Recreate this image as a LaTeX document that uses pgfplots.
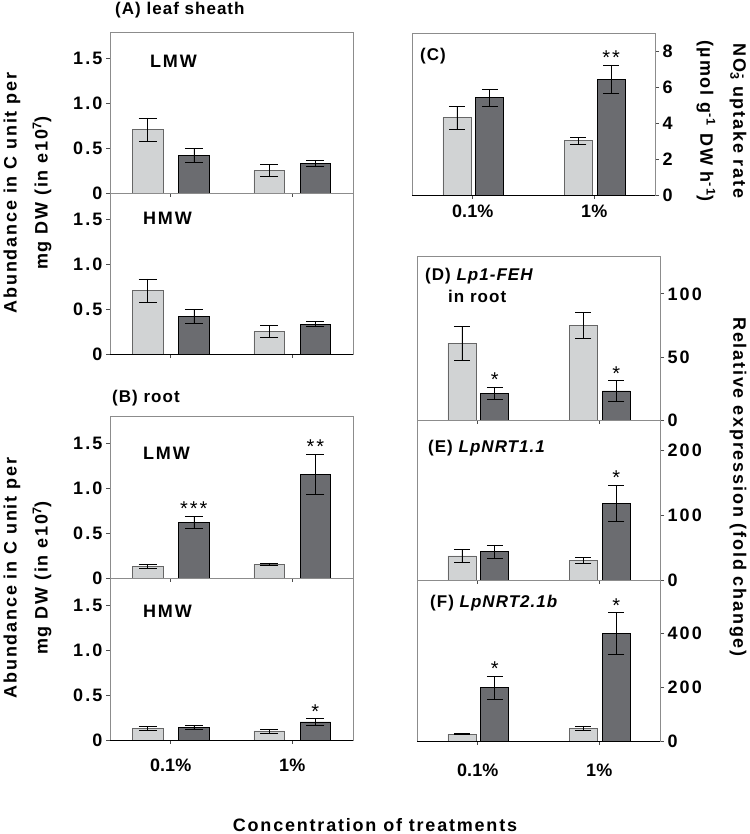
\documentclass[border=0pt]{standalone}
\usepackage{fontspec}
\setmainfont{Liberation Sans}
\newfontfamily\spfont{Liberation Sans}[LetterSpace=10]
\newfontfamily\sptfont{Liberation Sans}[LetterSpace=6]
\newfontfamily\tkfont{Liberation Sans}[LetterSpace=12]
\usepackage{pgfplots}
\pgfplotsset{compat=1.18}
\definecolor{lightbar}{HTML}{D1D3D4}
\definecolor{darkbar}{HTML}{6B6C70}
\definecolor{framec}{HTML}{8C8C8C}
\newcommand{\tickfont}{\tkfont\fontsize{18bp}{18bp}\selectfont\bfseries}
\newcommand{\xtickfont}{\fontsize{18bp}{18bp}\selectfont\bfseries}
\newcommand{\labfont}{\spfont\fontsize{18bp}{18bp}\selectfont\bfseries}
\newcommand{\titfont}{\sptfont\fontsize{17bp}{17bp}\selectfont\bfseries}
\newcommand{\starfont}{\spfont\fontsize{20bp}{20bp}\selectfont}
\newcommand{\botline}{\draw[black,line width=0.8bp] (rel axis cs:0,0) -- (rel axis cs:1,0);}
\pgfplotsset{
 base/.style={scale only axis, xmin=-0.5, xmax=1.5, ymin=0, xtick={0,1}, xticklabels={,},
   axis line style={framec, line width=0.7bp}, tick align=outside, major tick length=4bp,
   tick style={black!70, line width=0.7bp}, xtick pos=left,
   yticklabel style={font=\tickfont}, xticklabel style={font=\xtickfont}, clip=false},
 leftp/.style={base, width=243bp, ymax=1.8, ytick={0,0.5,1,1.5}, yticklabels={0,0.5,1.0,1.5}, ytick pos=left},
 rightp/.style={base, width=243bp, ytick pos=right, yticklabel pos=right},
 errs/.style={error bars/.cd, y dir=both, y explicit, error bar style={black, line width=0.6bp},
   error mark options={black, line width=0.6bp, rotate=90, mark size=#1}},
 lbarL/.style={ybar, bar width=0.25, bar shift=0, fill=lightbar, draw=black!60, line width=0.7bp, errs=9bp},
 dbarL/.style={ybar, bar width=0.25, bar shift=0, fill=darkbar, draw=black, line width=0.7bp, errs=9bp},
 lbarR/.style={ybar, bar width=0.23, bar shift=0, fill=lightbar, draw=black!60, line width=0.7bp, errs=8bp},
 dbarR/.style={ybar, bar width=0.23, bar shift=0, fill=darkbar, draw=black, line width=0.7bp, errs=8bp},
}
\begin{document}
\begin{tikzpicture}
\useasboundingbox (0,0) rectangle (750bp,834bp);
% ---------- (A) leaf sheath LMW
\begin{axis}[leftp, at={(110bp,641bp)}, anchor=south west, height=161bp]
\addplot[lbarL] coordinates {(-0.19,0.71) +- (0,0.13) (0.81,0.25) +- (0,0.067)};
\addplot[dbarL] coordinates {(0.19,0.42) +- (0,0.075) (1.19,0.33) +- (0,0.03)};
\botline
\end{axis}
% ---------- (A) HMW
\begin{axis}[leftp, at={(110bp,480bp)}, anchor=south west, height=161bp]
\addplot[lbarL] coordinates {(-0.19,0.71) +- (0,0.13) (0.81,0.25) +- (0,0.066)};
\addplot[dbarL] coordinates {(0.19,0.42) +- (0,0.078) (1.19,0.335) +- (0,0.025)};
\botline
\end{axis}
% ---------- (B) root LMW
\begin{axis}[leftp, at={(110bp,256bp)}, anchor=south west, height=162bp]
\addplot[lbarL] coordinates {(-0.19,0.13) +- (0,0.025) (0.81,0.155) +- (0,0.012)};
\addplot[dbarL] coordinates {(0.19,0.62) +- (0,0.065) (1.19,1.15) +- (0,0.22)};
\botline
\node[anchor=south, inner sep=0, font=\starfont] at (axis cs:0.19,0.69) {***};
\node[anchor=south, inner sep=0, font=\starfont] at (axis cs:1.19,1.38) {**};
\end{axis}
% ---------- (B) HMW
\begin{axis}[leftp, at={(110bp,94bp)}, anchor=south west, height=162bp,
  xticklabels={0.1\%,1\%}, xticklabel style={yshift=-11bp}]
\addplot[lbarL] coordinates {(-0.19,0.13) +- (0,0.025) (0.81,0.10) +- (0,0.022)};
\addplot[dbarL] coordinates {(0.19,0.14) +- (0,0.018) (1.19,0.20) +- (0,0.038)};
\botline
\node[anchor=south, inner sep=0, font=\starfont] at (axis cs:1.19,0.24) {*};
\end{axis}
% ---------- (C) NO3 uptake
\begin{axis}[rightp, at={(412bp,639bp)}, anchor=south west, height=162bp, ymax=9,
  ytick={0,2,4,6,8}, yticklabels={0,2,4,6,8},
  xticklabels={0.1\%,1\%}, xticklabel style={yshift=-2bp}]
\addplot[lbarR] coordinates {(-0.13,4.3) +- (0,0.63) (0.87,3.02) +- (0,0.2)};
\addplot[dbarR] coordinates {(0.14,5.4) +- (0,0.45) (1.14,6.44) +- (0,0.79)};
\botline
\node[anchor=south, inner sep=0, font=\starfont] at (axis cs:1.14,7.25) {**};
\end{axis}
% ---------- (D) Lp1-FEH
\begin{axis}[rightp, at={(417bp,414bp)}, anchor=south west, height=164bp, ymax=130,
  ytick={0,50,100}, yticklabels={0,50,100}]
\addplot[lbarR] coordinates {(-0.13,61) +- (0,13.3) (0.87,75) +- (0,10)};
\addplot[dbarR] coordinates {(0.14,21) +- (0,4.6) (1.14,23) +- (0,8.2)};
\botline
\node[anchor=south, inner sep=0, font=\starfont] at (axis cs:0.14,26) {*};
\node[anchor=south, inner sep=0, font=\starfont] at (axis cs:1.14,31.5) {*};
\end{axis}
% ---------- (E) LpNRT1.1
\begin{axis}[rightp, at={(417bp,254bp)}, anchor=south west, height=160bp, ymax=246,
  ytick={0,100,200}, yticklabels={0,100,200}]
\addplot[lbarR] coordinates {(-0.13,37) +- (0,10) (0.87,30) +- (0,5)};
\addplot[dbarR] coordinates {(0.14,44) +- (0,10) (1.14,118) +- (0,28)};
\botline
\node[anchor=south, inner sep=0, font=\starfont] at (axis cs:1.14,147) {*};
\end{axis}
% ---------- (F) LpNRT2.1b
\begin{axis}[rightp, at={(417bp,93bp)}, anchor=south west, height=161bp, ymax=600,
  ytick={0,200,400}, yticklabels={0,200,400},
  xticklabels={0.1\%,1\%}, xticklabel style={yshift=-15bp}]
\addplot[lbarR] coordinates {(-0.13,26) +- (0,2.5) (0.87,48) +- (0,8)};
\addplot[dbarR] coordinates {(0.14,199) +- (0,43) (1.14,401) +- (0,77)};
\botline
\node[anchor=south, inner sep=0, font=\starfont] at (axis cs:0.14,243) {*};
\node[anchor=south, inner sep=0, font=\starfont] at (axis cs:1.14,479) {*};
\end{axis}
% ---------- panel titles
\node[anchor=base west, inner sep=0, font=\titfont] at (115bp,819bp) {(A) leaf sheath};
\node[anchor=base west, inner sep=0, font=\titfont] at (112bp,431bp) {(B) root};
\node[anchor=north west, inner sep=0, font=\labfont] at (150bp,779bp) {LMW};
\node[anchor=north west, inner sep=0, font=\labfont] at (143bp,622bp) {HMW};
\node[anchor=north west, inner sep=0, font=\labfont] at (143bp,387bp) {LMW};
\node[anchor=north west, inner sep=0, font=\labfont] at (143bp,229bp) {HMW};
\node[anchor=north west, inner sep=0, font=\titfont] at (420bp,786bp) {(C)};
\node[anchor=north west, inner sep=0, font=\titfont] at (425bp,566bp) {(D) \itshape Lp1-FEH};
\node[anchor=north west, inner sep=0, font=\titfont] at (448bp,544bp) {in root};
\node[anchor=north west, inner sep=0, font=\titfont] at (428bp,394bp) {(E) \itshape LpNRT1.1};
\node[anchor=north west, inner sep=0, font=\titfont] at (430bp,239bp) {(F) \itshape LpNRT2.1b};
% ---------- axis labels
\node[rotate=90, inner sep=0, font=\labfont] at (12bp,641bp) {Abundance in C unit per};
\node[rotate=90, inner sep=0, font=\labfont] at (42bp,641bp) {mg DW (in e10\textsuperscript{7})};
\node[rotate=90, inner sep=0, font=\labfont] at (12bp,256bp) {Abundance in C unit per};
\node[rotate=90, inner sep=0, font=\labfont] at (42bp,256bp) {mg DW (in e10\textsuperscript{7})};
\node[rotate=-90, inner sep=0, font=\labfont] at (738bp,713bp) {NO\rlap{\textsubscript{3}}\textsuperscript{\,-} uptake rate};
\node[rotate=-90, inner sep=0, font=\labfont] at (706bp,713bp) {(µmol g\textsuperscript{-1} DW h\textsuperscript{-1})};
\node[rotate=-90, inner sep=0, font=\labfont] at (738bp,347bp) {Relative expression (fold change)};
\node[anchor=base, inner sep=0, font=\labfont] at (375bp,3bp) {Concentration of treatments};
\end{tikzpicture}
\end{document}
